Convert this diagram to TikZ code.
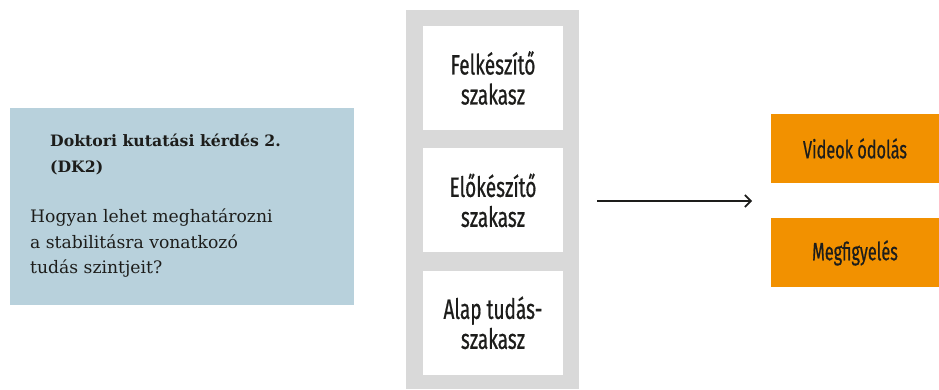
\documentclass[tikz,border=0pt]{standalone}
\usepackage{fontspec}
\setmainfont{DejaVu Serif}
\newfontfamily\condfont[FakeStretch=0.68,FakeBold=0.6]{Fira Sans}
\newfontfamily\phasefont[FakeStretch=0.65,FakeBold=0.6]{Fira Sans}
\usetikzlibrary{arrows.meta,positioning}

\definecolor{qblue}{HTML}{B8D1DC}
\definecolor{colgray}{HTML}{D9D9D9}
\definecolor{phaseorange}{HTML}{F29100}
\definecolor{ink}{HTML}{1D1D1B}

\begin{document}
\begin{tikzpicture}[
  x=1pt, y=1pt,
  node distance=18pt and 18pt,
  >={Straight Barb[length=6pt,width=12pt,line width=1.6pt]},
  stagebox/.style={
    rectangle, fill=white, minimum width=140pt, minimum height=104pt,
    align=center, inner sep=0pt, text=ink,
    font=\condfont\fontsize{28}{30}\selectfont
  },
  phasebox/.style={
    rectangle, fill=phaseorange, minimum width=168pt, minimum height=69pt,
    align=center, inner sep=0pt, text=ink,
    font=\phasefont\fontsize{25}{28}\selectfont
  },
  arrow/.style={->, line width=1.6pt, ink},
]
  \useasboundingbox (0,0) rectangle (939,389);

  % Question box
  \node[rectangle, fill=qblue, minimum width=344pt, minimum height=197pt,
    inner sep=0pt] (question) at (182,182.5) {};
  \node[anchor=north west, align=left, inner sep=0pt, text=ink,
    font=\bfseries\fontsize{15.7}{26}\selectfont]
    (qtitle) at (50,255) {Doktori kutatási kérdés 2.\\(DK2)};
  \node[anchor=north west, align=left, inner sep=0pt, text=ink,
    font=\fontsize{17.2}{25.5}\selectfont]
    (qtext) at (30,180) {Hogyan lehet meghatározni\\a stabilitásra vonatkozó\\tudás szintjeit?};

  % Stage column
  \node[rectangle, fill=colgray, minimum width=173pt, minimum height=379pt,
    inner sep=0pt, anchor=south west] (column) at (406,0) {};
  \node[stagebox] (prep) at (493,311) {Felkészítő\\szakasz};
  \node[stagebox] (pre) [below=of prep] {Előkészítő\\szakasz};
  \node[stagebox] (base) [below=of pre] {Alap tudás-\\szakasz};

  % Phases
  \node[phasebox] (video) at (855,240.5) {Videok ódolás};
  \node[phasebox] (observe) [below=35pt of video] {Megfigyelés};

  % Arrow
  \coordinate (arrstart) at (597,188);
  \coordinate (arrend) at (752,188);
  \draw[arrow] (arrstart) -- (arrend);
\end{tikzpicture}
\end{document}
